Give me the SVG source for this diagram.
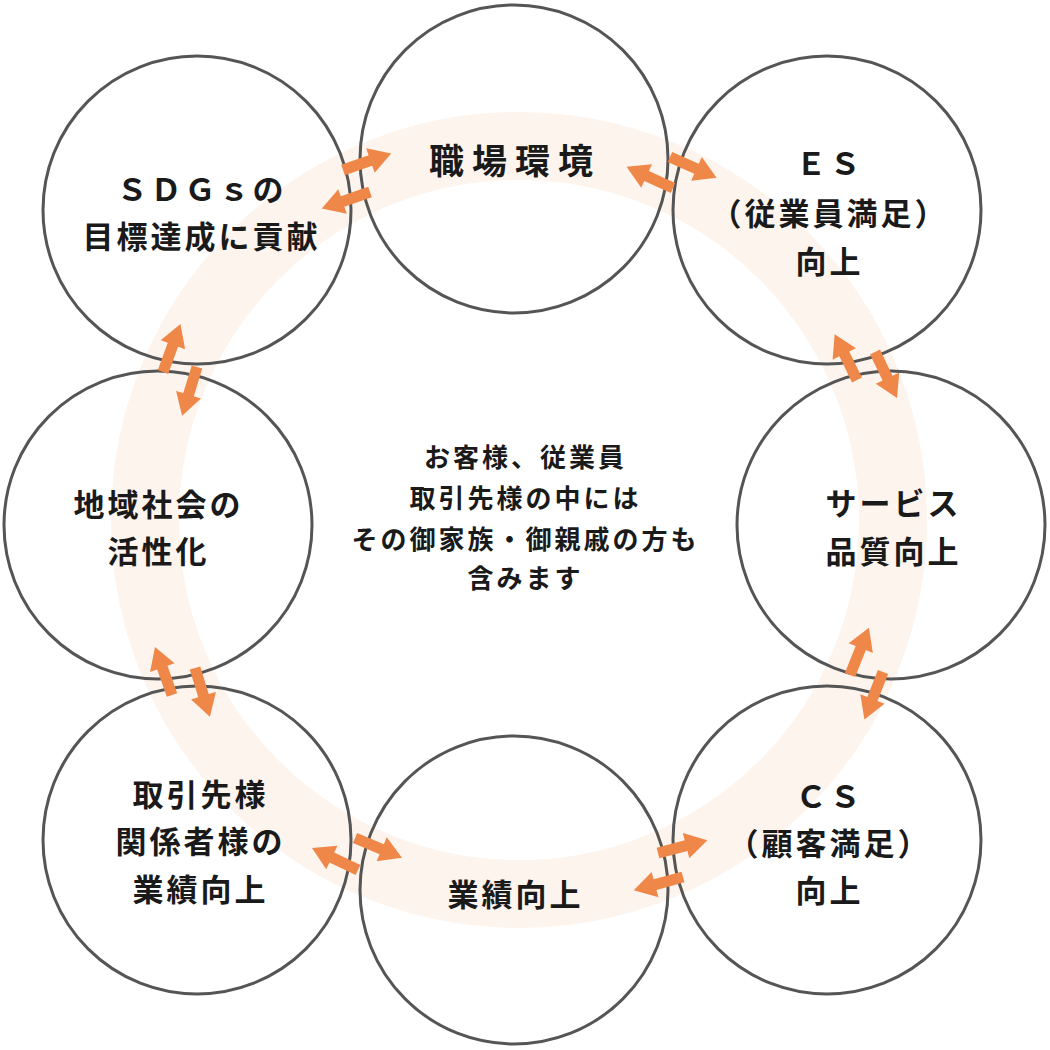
<svg xmlns="http://www.w3.org/2000/svg" width="1050" height="1050" viewBox="0 0 1050 1050">
<style>
.ring{fill:none;stroke:#fdf4ee;stroke-width:68}
.node circle{fill:none;stroke:#555555;stroke-width:3}
.lbl{font-family:"Noto Sans CJK JP","Noto Sans",sans-serif;font-weight:700;font-size:31px;letter-spacing:3px;fill:#1a1a1a;text-anchor:middle}
.wide{font-size:35px;letter-spacing:8px}
.center{font-size:26px;letter-spacing:3px}
.arr{fill:#ef8748}
</style>
<defs>
<path id="arr" d="M0,-5.5 L29,-5.5 L29,-13 L51,0 L29,13 L29,5.5 L0,5.5 Z"/>
</defs>
<rect width="1050" height="1050" fill="#ffffff"/>
<circle class="ring" cx="519" cy="520" r="374"/>
<g id="node-shokuba" class="node">
<circle cx="514" cy="159" r="154"/>
<text class="lbl wide" x="515" y="174">職場環境</text>
</g>
<g id="node-es" class="node">
<circle cx="827" cy="210" r="154"/>
<text class="lbl" x="829.5" y="175">ＥＳ</text>
<text class="lbl" x="829.5" y="225">（従業員満足）</text>
<text class="lbl" x="829.5" y="273">向上</text>
</g>
<g id="node-service" class="node">
<circle cx="891" cy="525" r="154"/>
<text class="lbl" x="893.5" y="515">サービス</text>
<text class="lbl" x="893.5" y="563">品質向上</text>
</g>
<g id="node-cs" class="node">
<circle cx="827" cy="840" r="154"/>
<text class="lbl" x="829.5" y="808">ＣＳ</text>
<text class="lbl" x="829.5" y="855">（顧客満足）</text>
<text class="lbl" x="829.5" y="902">向上</text>
</g>
<g id="node-gyoseki" class="node">
<circle cx="514" cy="890" r="154"/>
<text class="lbl" x="515.5" y="906">業績向上</text>
</g>
<g id="node-torihiki" class="node">
<circle cx="197" cy="840" r="154"/>
<text class="lbl" x="200.5" y="806">取引先様</text>
<text class="lbl" x="200.5" y="853">関係者様の</text>
<text class="lbl" x="200.5" y="901">業績向上</text>
</g>
<g id="node-chiiki" class="node">
<circle cx="158" cy="525" r="154"/>
<text class="lbl" x="158.5" y="516">地域社会の</text>
<text class="lbl" x="158.5" y="563">活性化</text>
</g>
<g id="node-sdgs" class="node">
<circle cx="197" cy="210" r="154"/>
<text class="lbl" x="201.5" y="201">ＳＤＧｓの</text>
<text class="lbl" x="201.5" y="248">目標達成に貢献</text>
</g>
<g id="connectors" class="arr">
<use href="#arr" transform="translate(343,170) rotate(-19)"/>
<use href="#arr" transform="translate(370,192) rotate(161)"/>
<use href="#arr" transform="translate(670,157) rotate(24)"/>
<use href="#arr" transform="translate(673,188) rotate(204.5)"/>
<use href="#arr" transform="translate(857,380) rotate(244)"/>
<use href="#arr" transform="translate(875,352) rotate(64.4)"/>
<use href="#arr" transform="translate(850,675) rotate(-68.2)"/>
<use href="#arr" transform="translate(883,672) rotate(111.4)"/>
<use href="#arr" transform="translate(658,853) rotate(-14.6)"/>
<use href="#arr" transform="translate(683,877) rotate(164.8)"/>
<use href="#arr" transform="translate(358,870) rotate(205.6)"/>
<use href="#arr" transform="translate(355,838) rotate(22.9)"/>
<use href="#arr" transform="translate(172,695) rotate(250.5)"/>
<use href="#arr" transform="translate(195,668) rotate(73)"/>
<use href="#arr" transform="translate(163,372) rotate(-70)"/>
<use href="#arr" transform="translate(197,367) rotate(107)"/>
</g>
<g id="center-note">
<text class="lbl center" x="525.5" y="467">お客様、従業員</text>
<text class="lbl center" x="525.5" y="508">取引先様の中には</text>
<text class="lbl center" x="525.5" y="549">その御家族・御親戚の方も</text>
<text class="lbl center" x="525.5" y="588">含みます</text>
</g>
</svg>
